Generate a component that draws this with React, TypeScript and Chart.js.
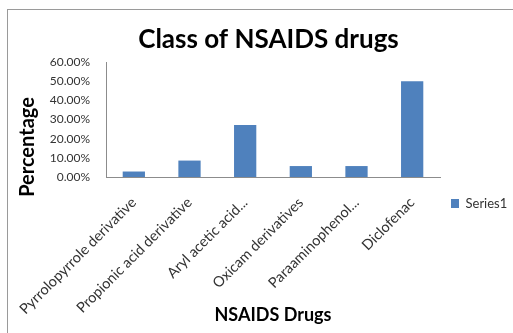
import { useEffect, useRef } from "react";
import { Chart, registerables } from "chart.js";

Chart.register(...registerables);

// Drug classes and their share of prescriptions (%)
const categories = [
  "Pyrrolopyrrole derivative",
  "Propionic acid derivative",
  "Aryl acetic acid...",
  "Oxicam derivatives",
  "Paraaminophenol...",
  "Diclofenac",
];
const seriesValues = [2.86, 8.57, 27.14, 5.71, 5.71, 50.0];
const seriesName = "Series1";

const chartTitle = "Class of NSAIDS drugs";
const xAxisTitle = "NSAIDS Drugs";
const yAxisTitle = "Percentage";
const yMax = 60;
const yStep = 10;

const FONT = "Lato, 'DejaVu Sans', sans-serif";
const BAR_COLOR = "#4F81BD";
const AXIS_COLOR = "#8c8c8c";

// Rotated y-axis caption, placed a little below the axis midpoint
const yTitlePlugin = {
  id: "yCaption",
  afterDraw(chart: any) {
    const { ctx, chartArea } = chart;
    ctx.save();
    ctx.font = `bold 20px ${FONT}`;
    ctx.fillStyle = "#000";
    ctx.textAlign = "center";
    ctx.textBaseline = "middle";
    ctx.translate(chartArea.left - 78, chartArea.bottom - 30);
    ctx.rotate(-Math.PI / 2);
    ctx.fillText(yAxisTitle, 0, 0);
    ctx.restore();
  },
};

export default function App() {
  const canvasRef = useRef<HTMLCanvasElement | null>(null);

  useEffect(() => {
    const canvas = canvasRef.current;
    if (!canvas) return;
    const chart = new Chart(canvas, {
      type: "bar",
      data: {
        labels: categories,
        datasets: [
          {
            label: seriesName,
            data: seriesValues,
            backgroundColor: BAR_COLOR,
            borderWidth: 0,
            barPercentage: 0.4,
            categoryPercentage: 1,
          },
        ],
      },
      plugins: [yTitlePlugin],
      options: {
        responsive: false,
        animation: false,
        layout: { padding: { left: 24, right: 0, top: 0, bottom: 0 } },
        plugins: {
          title: {
            display: true,
            text: chartTitle,
            color: "#000",
            font: { family: FONT, size: 26, weight: "bold", lineHeight: 1.2 },
            padding: { top: 24, bottom: 6.8 },
          },
          legend: {
            position: "right",
            maxWidth: 73,
            // empty legend heading, used only to push the entry down
            title: {
              display: true,
              text: "",
              font: { family: FONT, size: 10, lineHeight: 1 },
              padding: { top: 64, bottom: 0 },
            },
            labels: {
              boxWidth: 8,
              boxHeight: 9,
              padding: 11,
              color: "#333",
              font: { family: FONT, size: 13 },
            },
          },
          tooltip: { enabled: false },
        },
        scales: {
          x: {
            grid: { display: false, drawTicks: false },
            border: { color: AXIS_COLOR, width: 1 },
            ticks: {
              color: "#333",
              font: { family: FONT, size: 14.5 },
              maxRotation: 45,
              minRotation: 45,
              padding: 17,
              autoSkip: false,
            },
            title: {
              display: true,
              text: xAxisTitle,
              color: "#000",
              font: { family: FONT, size: 18, weight: "bold", lineHeight: 1.2 },
              padding: { top: 0, bottom: 7 },
            },
            afterFit(scale: any) {
              scale.height = 156;
              // long rotated labels may run past the plot edges
              scale.paddingLeft = 0;
              scale.paddingRight = 0;
            },
          },
          y: {
            min: 0,
            max: yMax,
            grid: { display: false, drawTicks: false },
            border: { color: AXIS_COLOR, width: 1 },
            ticks: {
              stepSize: yStep,
              color: "#333",
              font: { family: FONT, size: 12 },
              padding: 16,
              callback: (v: any) => Number(v).toFixed(2) + "%",
            },
            afterFit(scale: any) {
              scale.width = 82;
            },
          },
        },
      },
    });
    return () => chart.destroy();
  }, []);

  return (
    <div
      style={{
        position: "fixed",
        left: 0,
        top: 0,
        width: 513,
        height: 333,
        background: "#fff",
        overflow: "hidden",
      }}
    >
      <div
        style={{
          position: "absolute",
          left: 7,
          top: 9,
          width: 600,
          height: 400,
          borderLeft: "1px solid #9a9a9a",
          borderTop: "1px solid #9a9a9a",
        }}
      />
      <canvas
        ref={canvasRef}
        width={513}
        height={333}
        style={{ position: "absolute", left: 0, top: 0 }}
      />
    </div>
  );
}
